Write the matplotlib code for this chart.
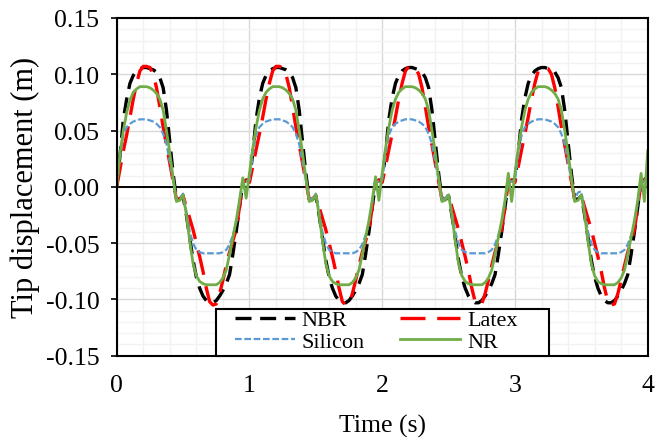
import numpy as np
import matplotlib
matplotlib.use("Agg")
import matplotlib.pyplot as plt
from matplotlib.ticker import MultipleLocator, FuncFormatter
from matplotlib.patches import Rectangle

plt.rcParams['font.family'] = ['Liberation Serif', 'DejaVu Serif']
plt.rcParams['axes.unicode_minus'] = False

time = np.linspace(0.0, 4.0, 161)

nbr = [
    0.000, 0.028, 0.060, 0.078, 0.092, 0.099, 0.103, 0.105, 0.106, 0.106,
    0.105, 0.104, 0.102, 0.097, 0.088, 0.068, 0.040, 0.012, -0.011, -0.011,
    -0.008, -0.025, -0.045, -0.065, -0.080, -0.090, -0.097, -0.101, -0.103, -0.103,
    -0.101, -0.097, -0.092, -0.086, -0.078, -0.060, -0.040, -0.018, 0.004, 0.006,
    0.006, 0.030, 0.060, 0.079, 0.092, 0.099, 0.103, 0.105, 0.106, 0.106,
    0.105, 0.104, 0.102, 0.097, 0.088, 0.068, 0.040, 0.012, -0.011, -0.011,
    -0.008, -0.025, -0.045, -0.065, -0.080, -0.090, -0.097, -0.101, -0.103, -0.103,
    -0.101, -0.097, -0.092, -0.086, -0.078, -0.060, -0.040, -0.018, 0.004, 0.006,
    0.006, 0.030, 0.060, 0.079, 0.092, 0.099, 0.103, 0.105, 0.106, 0.106,
    0.105, 0.104, 0.102, 0.097, 0.088, 0.068, 0.040, 0.012, -0.011, -0.011,
    -0.008, -0.025, -0.045, -0.065, -0.080, -0.090, -0.097, -0.101, -0.103, -0.103,
    -0.101, -0.097, -0.092, -0.086, -0.078, -0.060, -0.040, -0.018, 0.004, 0.006,
    0.006, 0.030, 0.060, 0.079, 0.092, 0.099, 0.103, 0.105, 0.106, 0.106,
    0.105, 0.104, 0.102, 0.097, 0.088, 0.068, 0.040, 0.012, -0.011, -0.011,
    -0.008, -0.025, -0.045, -0.065, -0.080, -0.090, -0.097, -0.101, -0.103, -0.103,
    -0.101, -0.097, -0.092, -0.086, -0.078, -0.060, -0.040, -0.018, 0.004, 0.006,
    0.010,
]

latex = [
    0.000, 0.016, 0.032, 0.046, 0.062, 0.078, 0.092, 0.103, 0.107, 0.107,
    0.106, 0.100, 0.088, 0.071, 0.053, 0.037, 0.021, 0.005, -0.011, -0.011,
    -0.008, -0.018, -0.028, -0.038, -0.050, -0.062, -0.075, -0.090, -0.102, -0.105,
    -0.104, -0.095, -0.083, -0.070, -0.058, -0.048, -0.038, -0.018, 0.004, 0.006,
    0.004, 0.018, 0.033, 0.047, 0.062, 0.078, 0.092, 0.103, 0.107, 0.107,
    0.106, 0.100, 0.088, 0.071, 0.053, 0.037, 0.021, 0.005, -0.011, -0.011,
    -0.008, -0.018, -0.028, -0.038, -0.050, -0.062, -0.075, -0.090, -0.102, -0.105,
    -0.104, -0.095, -0.083, -0.070, -0.058, -0.048, -0.038, -0.018, 0.004, 0.006,
    0.004, 0.018, 0.033, 0.047, 0.062, 0.078, 0.092, 0.103, 0.107, 0.107,
    0.106, 0.100, 0.088, 0.071, 0.053, 0.037, 0.021, 0.005, -0.011, -0.011,
    -0.008, -0.018, -0.028, -0.038, -0.050, -0.062, -0.075, -0.090, -0.102, -0.105,
    -0.104, -0.095, -0.083, -0.070, -0.058, -0.048, -0.038, -0.018, 0.004, 0.006,
    0.004, 0.018, 0.033, 0.047, 0.062, 0.078, 0.092, 0.103, 0.106, 0.106,
    0.105, 0.100, 0.088, 0.071, 0.053, 0.037, 0.021, 0.005, -0.011, -0.011,
    -0.008, -0.018, -0.028, -0.038, -0.050, -0.062, -0.075, -0.090, -0.102, -0.105,
    -0.104, -0.095, -0.083, -0.070, -0.058, -0.048, -0.038, -0.018, 0.004, 0.006,
    0.008,
]

silicon = [
    0.000, 0.026, 0.046, 0.053, 0.056, 0.058, 0.059, 0.060, 0.060, 0.060,
    0.059, 0.058, 0.056, 0.053, 0.047, 0.038, 0.022, 0.006, -0.011, -0.010,
    -0.006, -0.022, -0.040, -0.050, -0.056, -0.058, -0.059, -0.059, -0.059, -0.059,
    -0.059, -0.059, -0.058, -0.056, -0.051, -0.043, -0.032, -0.014, 0.004, 0.005,
    0.006, 0.028, 0.046, 0.053, 0.056, 0.058, 0.059, 0.060, 0.060, 0.060,
    0.059, 0.058, 0.056, 0.053, 0.047, 0.038, 0.022, 0.006, -0.011, -0.010,
    -0.006, -0.022, -0.040, -0.050, -0.056, -0.058, -0.059, -0.059, -0.059, -0.059,
    -0.059, -0.059, -0.058, -0.056, -0.051, -0.043, -0.032, -0.014, 0.004, 0.005,
    0.006, 0.028, 0.046, 0.053, 0.056, 0.058, 0.059, 0.060, 0.060, 0.060,
    0.059, 0.058, 0.056, 0.053, 0.047, 0.038, 0.022, 0.006, -0.011, -0.010,
    -0.006, -0.022, -0.040, -0.050, -0.056, -0.058, -0.059, -0.059, -0.059, -0.059,
    -0.059, -0.059, -0.058, -0.056, -0.051, -0.043, -0.032, -0.014, 0.004, 0.005,
    0.006, 0.028, 0.046, 0.053, 0.056, 0.058, 0.059, 0.060, 0.060, 0.060,
    0.059, 0.058, 0.056, 0.053, 0.047, 0.038, 0.022, 0.006, -0.011, -0.005,
    -0.004, -0.022, -0.040, -0.050, -0.056, -0.058, -0.059, -0.059, -0.059, -0.059,
    -0.059, -0.059, -0.058, -0.056, -0.051, -0.043, -0.032, -0.014, 0.004, 0.005,
    0.010,
]

nr = [
    0.000, 0.030, 0.050, 0.066, 0.077, 0.084, 0.087, 0.089, 0.089, 0.089,
    0.088, 0.086, 0.083, 0.078, 0.068, 0.050, 0.030, 0.008, -0.013, -0.012,
    -0.007, -0.025, -0.048, -0.068, -0.079, -0.084, -0.086, -0.087, -0.087, -0.087,
    -0.087, -0.085, -0.081, -0.074, -0.060, -0.045, -0.030, -0.012, 0.008, -0.010,
    0.012, 0.034, 0.053, 0.068, 0.078, 0.084, 0.087, 0.089, 0.089, 0.089,
    0.088, 0.086, 0.083, 0.078, 0.068, 0.050, 0.030, 0.008, -0.013, -0.012,
    -0.007, -0.025, -0.048, -0.068, -0.079, -0.084, -0.086, -0.087, -0.087, -0.087,
    -0.087, -0.085, -0.081, -0.074, -0.060, -0.045, -0.030, -0.012, 0.009, -0.012,
    0.012, 0.034, 0.053, 0.068, 0.078, 0.084, 0.087, 0.089, 0.089, 0.089,
    0.088, 0.086, 0.083, 0.078, 0.068, 0.050, 0.030, 0.008, -0.013, -0.012,
    -0.007, -0.025, -0.048, -0.068, -0.079, -0.084, -0.086, -0.087, -0.087, -0.087,
    -0.087, -0.085, -0.081, -0.074, -0.060, -0.045, -0.030, -0.012, 0.012, -0.013,
    0.012, 0.034, 0.053, 0.068, 0.078, 0.084, 0.087, 0.089, 0.089, 0.089,
    0.088, 0.086, 0.083, 0.078, 0.068, 0.050, 0.030, 0.008, -0.013, -0.012,
    -0.007, -0.025, -0.048, -0.068, -0.079, -0.084, -0.086, -0.087, -0.087, -0.087,
    -0.087, -0.085, -0.081, -0.074, -0.060, -0.045, -0.030, -0.012, 0.012, -0.013,
    0.032,
]

series_labels = ["NBR", "Latex", "Silicon", "NR"]
x_label = "Time (s)"
y_label = "Tip displacement (m)"

# ---------------- figure ----------------
W, H = 655, 439
fig = plt.figure(figsize=(W / 100, H / 100), dpi=100)
L, R, T, B = 116.7, 647.7, 19.0, 356.7
ax = fig.add_axes([L / W, 1 - B / H, (R - L) / W, (B - T) / H])

ax.set_xlim(0, 4)
ax.set_ylim(-0.15, 0.15)

ax.xaxis.set_major_locator(MultipleLocator(1))
ax.xaxis.set_minor_locator(MultipleLocator(0.2))
ax.yaxis.set_major_locator(MultipleLocator(0.05))
ax.yaxis.set_minor_locator(MultipleLocator(0.01))
ax.grid(which='minor', color='#F2F2F2', lw=1.0, zorder=0)
ax.grid(which='major', color='#D9D9D9', lw=1.0, zorder=0)
ax.set_axisbelow(True)

ax.axhline(0, color='black', lw=1.4, zorder=1)

h_nbr, = ax.plot(time, nbr, color='black', lw=2.4, dashes=(4.8, 2.6), label=series_labels[0], zorder=2)
h_lat, = ax.plot(time, latex, color='#FF0000', lw=2.4, dashes=(7.5, 3.5), label=series_labels[1], zorder=3)
h_sil, = ax.plot(time, silicon, color='#5B9BD5', lw=1.6, dashes=(3.0, 1.2), label=series_labels[2], zorder=4)
h_nr, = ax.plot(time, nr, color='#70AD47', lw=2.0, label=series_labels[3], zorder=5)

ax.yaxis.set_major_formatter(FuncFormatter(lambda v, p: f"{v:.2f}".replace("-0.00", "0.00")))
ax.xaxis.set_major_formatter(FuncFormatter(lambda v, p: f"{v:.0f}"))
ax.tick_params(axis='y', which='major', direction='out', length=4.5, width=1.2,
               pad=8, labelsize=18.5, colors='black')
ax.tick_params(axis='x', which='major', length=0, pad=13, labelsize=18.5)
ax.tick_params(which='minor', length=0)

for s in ax.spines.values():
    s.set_color('black')
    s.set_linewidth(1.5)
    s.set_zorder(7)

ax.set_xlabel(x_label, fontsize=18.5, labelpad=13)
ax.set_ylabel(y_label, fontsize=22, labelpad=4)

# legend box (Excel style, anchored at the bottom of the plot area)
lx0, lx1, ly0 = 216.0, 549.0, 310.0
rect = Rectangle(((lx0 - L) / (R - L), 0.0), (lx1 - lx0) / (R - L), (B - ly0) / (B - T),
                 transform=ax.transAxes, facecolor='white', edgecolor='black',
                 lw=1.5, zorder=8, clip_on=False)
ax.add_patch(rect)
# column-major ordering so rows read: NBR, Latex / Silicon, NR
handles = [h_nbr, h_sil, h_lat, h_nr]
leg = ax.legend(handles, [h.get_label() for h in handles], ncol=2, loc='center left',
                bbox_to_anchor=((235 - L) / (R - L), (B - 332) / (B - T)),
                frameon=False, fontsize=16, handlelength=2.7, handletextpad=0.3,
                columnspacing=1.6, labelspacing=0.05, borderpad=0, borderaxespad=0)
leg.set_zorder(9)

fig.savefig("out.png", dpi=100)
